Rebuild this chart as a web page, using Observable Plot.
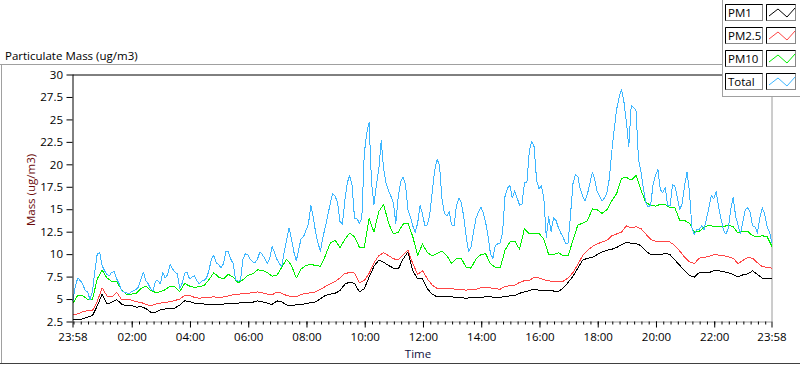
<!DOCTYPE html>
<html>
<head>
<meta charset="utf-8">
<script src="https://cdn.jsdelivr.net/npm/d3@7"></script>
<script src="https://cdn.jsdelivr.net/npm/@observablehq/plot@0.6"></script>
<style>
  html, body { margin: 0; padding: 0; background: #ffffff; }
  #chart { position: relative; width: 800px; height: 365px; overflow: hidden; background: #ffffff; font-family: "Open Sans", "Noto Sans", sans-serif; }
  #chart > svg { position: absolute; left: 0; top: 0; }
  #overlay { pointer-events: none; }
</style>
</head>
<body>
<div id="chart"></div>
<script>
// ---------------- data ----------------
const chartTitle = "Particulate Mass (ug/m3)";
const yAxisTitle = "Mass (ug/m3)";
const xAxisTitle = "Time";
const seriesNames = ["PM1", "PM2.5", "PM10", "Total"];
const seriesColors = ["#000000", "#ff4545", "#00f000", "#3db6ff"];

// minutes after 23:58 (start of record)
const xMajorTicks = [0, 122, 242, 362, 482, 602, 722, 842, 962, 1082, 1202, 1322, 1440];
const xTickLabels = ["23:58", "02:00", "04:00", "06:00", "08:00", "10:00", "12:00", "14:00", "16:00", "18:00", "20:00", "22:00", "23:58"];
const yTicks = [2.5, 5, 7.5, 10, 12.5, 15, 17.5, 20, 22.5, 25, 27.5, 30];
const yTickLabels = ["2.5", "5", "7.5", "10", "12.5", "15", "17.5", "20", "22.5", "25", "27.5", "30"];

const coarseStep = 10; // minutes between samples of PM1, PM2.5, PM10
const fineStep = 5;    // minutes between samples of Total

const pm1 = [
  2.72, 2.76, 2.85, 3.05, 3.2, 4.3, 5.6, 4.5, 4.7, 5.0, 4.5, 4.3,
  4.35, 4.15, 4.2, 4.0, 3.6, 3.6, 3.85, 3.95, 4.0, 4.05, 4.4, 4.85,
  4.8, 4.6, 4.55, 4.5, 4.45, 4.5, 4.4, 4.5, 4.55, 4.6, 4.6, 4.65,
  4.65, 4.7, 4.85, 4.75, 4.6, 4.45, 4.85, 4.75, 4.4, 4.35, 4.4, 4.45,
  4.55, 4.65, 4.75, 5.1, 5.45, 5.6, 5.7, 6.0, 6.7, 6.95, 6.8, 5.85,
  6.2, 7.5, 8.7, 9.4, 9.15, 8.8, 8.5, 8.4, 9.5, 10.3, 8.2, 7.3,
  7.3, 6.2, 5.6, 5.3, 5.3, 5.3, 5.3, 5.25, 5.2, 5.15, 5.2, 5.2,
  5.25, 5.3, 5.3, 5.25, 5.25, 5.35, 5.4, 5.45, 5.7, 5.85, 6.0, 6.15,
  6.05, 6.05, 6.05, 5.95, 5.9, 6.3, 6.9, 7.6, 8.5, 9.4, 9.6, 9.7,
  10.0, 10.3, 10.5, 10.6, 10.8, 11.1, 11.4, 11.25, 11.25, 11.0, 10.4, 10.0,
  10.0, 10.0, 10.15, 10.0, 9.4, 8.8, 8.2, 7.7, 7.5, 8.0, 8.0, 8.0,
  8.2, 8.2, 8.1, 8.0, 7.8, 7.5, 7.75, 7.85, 8.2, 7.8, 7.4, 7.3,
  7.3
];

const pm25 = [
  3.3, 3.4, 3.65, 3.75, 3.75, 4.8, 6.3, 5.4, 5.3, 5.8, 5.0, 4.95,
  4.95, 4.75, 4.7, 4.45, 4.3, 4.5, 4.6, 4.7, 4.75, 4.9, 5.05, 5.45,
  5.45, 5.25, 5.15, 5.2, 5.25, 5.3, 5.2, 5.3, 5.4, 5.55, 5.6, 5.65,
  5.7, 5.75, 5.85, 5.75, 5.6, 5.5, 5.85, 5.7, 5.45, 5.35, 5.3, 5.55,
  5.7, 5.75, 5.85, 6.15, 6.45, 6.75, 7.0, 7.4, 7.9, 8.0, 7.95, 6.9,
  7.1, 7.9, 9.1, 9.9, 10.2, 9.9, 9.55, 9.4, 10.0, 10.5, 9.0, 7.8,
  8.2, 7.3, 6.6, 6.25, 6.2, 6.2, 6.2, 6.15, 6.1, 6.05, 6.1, 6.15,
  6.3, 6.35, 6.3, 6.2, 6.15, 6.45, 6.55, 6.6, 6.9, 7.1, 7.15, 7.45,
  7.4, 7.2, 7.1, 7.0, 7.0, 7.05, 7.4, 8.0, 8.9, 9.9, 10.5, 10.9,
  11.2, 11.4, 11.6, 12.1, 12.3, 12.5, 13.2, 13.0, 13.1, 12.9, 12.3, 11.7,
  11.5, 11.5, 11.5, 11.4, 11.0, 10.4, 9.7, 9.2, 9.0, 9.6, 9.7, 9.8,
  10.0, 9.95, 9.9, 9.75, 9.6, 9.0, 9.35, 9.7, 9.6, 9.1, 8.65, 8.6,
  8.5
];

const pm10 = [
  4.6, 5.5, 5.45, 5.0, 5.0, 7.3, 8.3, 7.4, 7.0, 7.0, 6.1, 5.6,
  5.6, 5.7, 6.2, 6.5, 6.0, 5.8, 5.85, 6.1, 6.5, 6.4, 5.9, 6.8,
  6.5, 6.35, 6.45, 6.55, 7.2, 8.0, 7.5, 7.3, 7.8, 7.5, 6.85, 7.2,
  7.7, 7.85, 8.3, 8.25, 8.0, 7.6, 7.7, 8.6, 9.5, 8.8, 7.4, 8.4,
  8.8, 8.9, 8.8, 8.7, 9.9, 11.3, 11.6, 10.8, 11.7, 12.4, 12.0, 10.8,
  10.8, 14.0, 12.5, 14.8, 15.6, 13.5, 12.3, 12.5, 13.4, 13.5, 12.0, 9.9,
  11.2, 10.2, 9.9, 10.1, 10.4, 9.9, 9.0, 9.6, 9.55, 8.6, 8.5, 9.5,
  10.0, 10.1, 9.0, 8.6, 8.5, 10.5, 11.4, 11.5, 10.6, 12.9, 12.3, 12.3,
  12.4, 11.7, 10.0, 10.0, 10.2, 9.9, 9.9, 11.6, 13.3, 13.5, 13.8, 15.1,
  15.0, 14.6, 15.0, 16.0, 16.8, 18.5, 18.6, 18.3, 18.8, 17.2, 15.8, 15.5,
  15.4, 15.6, 15.6, 15.2, 15.2, 13.8, 13.8, 13.5, 12.5, 12.6, 13.0, 13.3,
  13.1, 13.1, 13.1, 13.3, 13.1, 12.4, 12.6, 12.6, 12.1, 12.0, 12.1, 12.0,
  10.9
];

const total = [
  4.9, 6.57, 7.4, 7.1, 6.75, 6.0, 5.85, 5.0, 5.85, 8.2, 10.1, 10.2, 8.8, 8.2, 7.8, 7.65, 8.05, 8.1, 7.3, 6.75, 6.0, 5.85, 5.75, 5.65,
  5.85, 6.0, 6.1, 6.4, 7.3, 8.05, 7.1, 6.75, 6.2, 6.0, 7.05, 7.1, 6.75, 8.05, 7.4, 7.8, 8.9, 8.4, 8.05, 7.85, 6.2, 6.85, 7.95, 8.05,
  7.3, 7.5, 7.65, 7.1, 6.75, 7.05, 7.1, 7.4, 8.2, 9.5, 9.9, 9.1, 8.9, 8.5, 9.0, 10.4, 10.3, 9.5, 9.0, 7.2, 7.05, 7.1, 9.5, 10.1,
  10.0, 9.5, 9.2, 9.1, 9.5, 10.3, 10.0, 9.6, 9.0, 9.5, 10.9, 10.3, 9.5, 9.0, 8.7, 10.3, 11.6, 13.0, 11.8, 10.3, 9.3, 10.6, 11.8, 12.0,
  12.7, 13.4, 15.5, 14.2, 12.4, 11.2, 10.4, 12.0, 13.1, 14.4, 15.7, 16.8, 16.5, 15.8, 13.7, 13.4, 16.0, 18.0, 18.8, 17.7, 14.0, 14.0, 13.5, 14.0,
  21.2, 23.5, 24.7, 18.0, 15.6, 17.8, 19.5, 22.7, 19.5, 17.9, 17.1, 16.5, 15.8, 13.5, 16.5, 18.1, 18.6, 17.8, 15.0, 14.2, 13.2, 12.5, 13.5, 15.5,
  14.5, 13.2, 13.3, 14.5, 17.0, 19.3, 20.6, 20.0, 16.2, 14.6, 14.3, 14.8, 13.3, 13.2, 15.5, 16.3, 15.8, 14.2, 12.0, 10.3, 10.9, 12.5, 14.0, 14.7,
  15.3, 14.7, 13.6, 12.1, 10.1, 9.6, 11.0, 11.2, 11.3, 12.5, 16.5, 17.4, 17.7, 16.3, 17.1, 16.3, 15.5, 15.6, 18.0, 18.0, 21.5, 22.6, 22.0, 18.3,
  17.3, 17.7, 16.2, 11.9, 14.2, 12.6, 14.1, 13.8, 13.0, 12.4, 11.9, 11.2, 11.3, 14.5, 17.9, 18.9, 18.7, 17.3, 16.5, 16.0, 16.8, 18.0, 19.2, 18.3,
  17.0, 16.5, 16.0, 16.3, 16.9, 18.5, 21.5, 24.0, 26.2, 27.5, 28.4, 27.0, 24.8, 22.0, 26.6, 26.4, 26.0, 20.6, 19.2, 17.4, 15.8, 15.3, 15.5, 17.8,
  18.8, 19.5, 17.2, 16.9, 17.5, 15.5, 15.4, 17.8, 17.6, 16.4, 15.0, 15.7, 17.7, 19.2, 17.0, 13.0, 12.2, 12.8, 12.8, 13.2, 12.8, 14.0, 15.2, 16.6,
  16.2, 17.0, 15.3, 14.0, 12.7, 12.3, 12.9, 15.0, 16.4, 14.3, 13.3, 12.3, 13.7, 15.0, 15.2, 14.7, 13.2, 13.1, 12.4, 14.1, 15.2, 14.5, 13.1, 12.5,
  11.3
];

// ---------------- build ----------------
const seriesValues = [pm1, pm25, pm10, total];
const seriesSteps = [coarseStep, coarseStep, coarseStep, fineStep];
const rows = seriesValues.map((vals, k) => vals.map((v, i) => ({series: seriesNames[k], t: i * seriesSteps[k], v})));
const xDomain = [0, 1440];
const yDomain = [2.5, 30];
const xMinorTicks = d3.range(2, 1440, 15);

const FONT = '"Open Sans", "Noto Sans", sans-serif';

const plot = Plot.plot({
  width: 800,
  height: 365,
  marginLeft: 72.5,
  marginRight: 28.5,
  marginTop: 74.5,
  marginBottom: 43.5,
  x: {domain: xDomain, axis: null, label: null},
  y: {domain: yDomain, axis: null, label: null},
  style: {fontFamily: FONT, fontSize: "11.5px", background: "transparent", color: "#000", overflow: "visible"},
  marks: [
    Plot.ruleY([yDomain[1]], {stroke: "#000", strokeWidth: 1}),
    Plot.ruleY([yDomain[0]], {stroke: "#9a9a9a", strokeWidth: 1}),
    Plot.ruleX([xDomain[1]], {stroke: "#9a9a9a", strokeWidth: 1}),
    ...rows.map((data, k) => Plot.line(data, {x: "t", y: "v", stroke: seriesColors[k], strokeWidth: 1, shapeRendering: "crispEdges"})),
    Plot.ruleX([xDomain[0]], {stroke: "#000", strokeWidth: 1}),
    Plot.axisY({ticks: yTicks, tickSize: 6, tickPadding: 4, label: null, stroke: "#000", fill: "#000",
      tickFormat: d => yTickLabels[yTicks.indexOf(d)]}),
    Plot.axisX({ticks: xMinorTicks, tickSize: 3, label: null, stroke: "#000", tickFormat: () => ""}),
    Plot.axisX({ticks: xMajorTicks, tickSize: 6, tickPadding: 5, label: null, stroke: "#000", fill: "#000",
      tickFormat: d => xTickLabels[xMajorTicks.indexOf(d)]})
  ]
});
document.getElementById("chart").appendChild(plot);

// ---------------- chrome (title, axis names, legend) ----------------
const ns = "http://www.w3.org/2000/svg";
const ov = d3.select("#chart").append("svg").attr("id", "overlay")
  .attr("width", 800).attr("height", 365).attr("xmlns", ns)
  .style("font-family", FONT);

ov.append("line").attr("x1", 0).attr("x2", 722).attr("y1", 64.5).attr("y2", 64.5).attr("stroke", "#a0a0a0");
ov.append("line").attr("x1", 1.5).attr("x2", 1.5).attr("y1", 64.5).attr("y2", 363).attr("stroke", "#a0a0a0");
ov.append("line").attr("x1", 0).attr("x2", 800).attr("y1", 363.5).attr("y2", 363.5).attr("stroke", "#404040");

ov.append("text").attr("x", 5).attr("y", 59.5).attr("font-size", "11.5px").attr("fill", "#000").text(chartTitle);
ov.append("text").attr("transform", "translate(35,190) rotate(-90)").attr("text-anchor", "middle")
  .attr("font-size", "11.5px").attr("fill", "#6b0a0a").text(yAxisTitle);
ov.append("text").attr("x", 418).attr("y", 358).attr("text-anchor", "middle")
  .attr("font-size", "11.5px").attr("fill", "#101040").text(xAxisTitle);

// legend
const lg = ov.append("g");
lg.append("rect").attr("x", 722.5).attr("y", -1).attr("width", 80).attr("height", 97.5)
  .attr("fill", "#ffffff").attr("stroke", "#a0a0a0");
seriesNames.forEach((name, i) => {
  const y0 = 4 + 23 * i;
  const g = lg.append("g").attr("transform", `translate(0,${y0})`);
  g.append("rect").attr("x", 725.5).attr("y", 0.5).attr("width", 37).attr("height", 16).attr("fill", "#fff").attr("stroke", "#888");
  g.append("path").attr("d", "M725.5,16.5V0.5H762.5").attr("fill", "none").attr("stroke", "#000");
  g.append("text").attr("x", 728).attr("y", 13).attr("font-size", "11.5px").attr("fill", "#000").text(name);
  g.append("rect").attr("x", 766.5).attr("y", 0.5).attr("width", 29).attr("height", 16).attr("fill", "#fff").attr("stroke", "#888");
  g.append("path").attr("d", "M766.5,16.5V0.5H795.5").attr("fill", "none").attr("stroke", "#000");
  g.append("polyline").attr("points", "769,12 778,5 787,13 795,4").attr("fill", "none")
    .attr("stroke", seriesColors[i]).attr("stroke-width", 1);
});
</script>
</body>
</html>
